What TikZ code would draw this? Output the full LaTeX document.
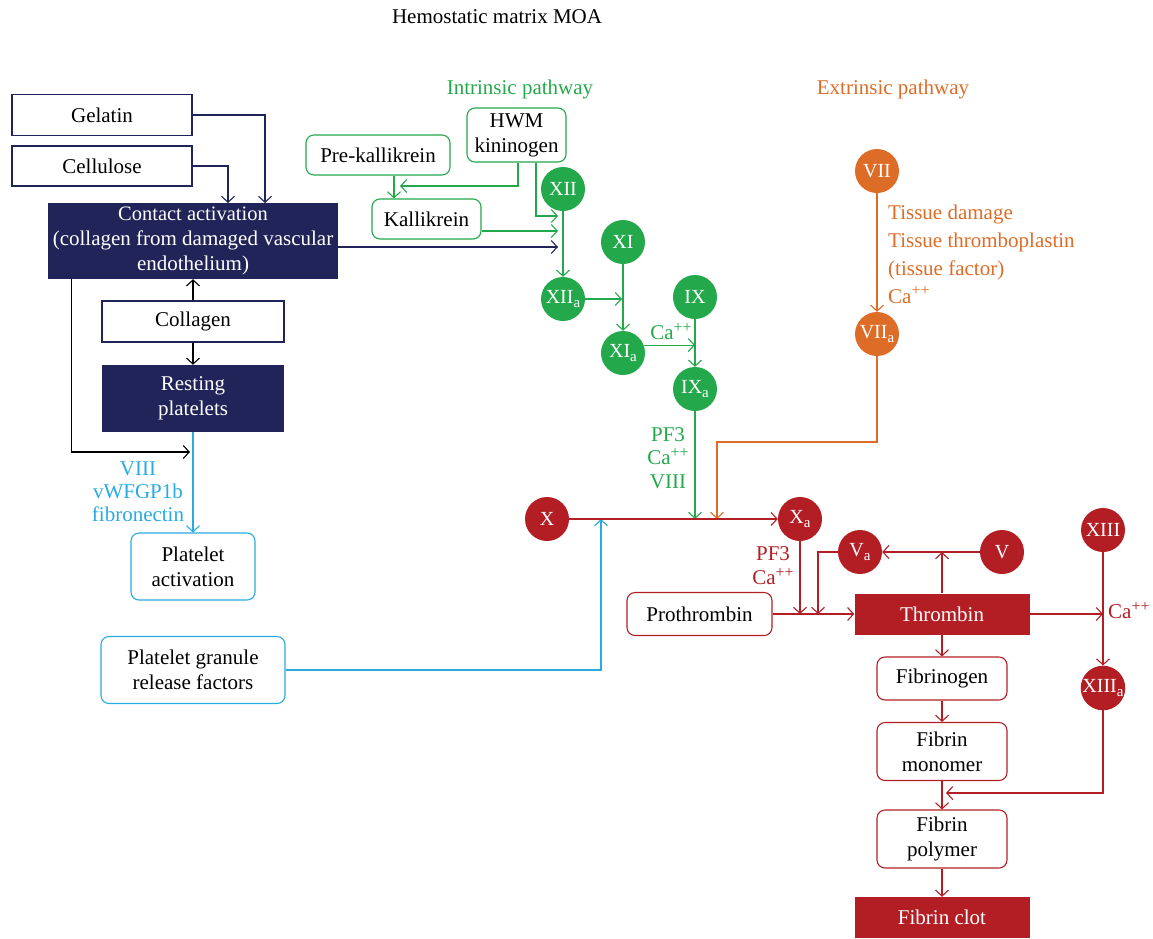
\documentclass[tikz,border=0pt]{standalone}
\usepackage{fontspec}
\setmainfont{Liberation Serif}
\usetikzlibrary{arrows.meta}
\definecolor{navy}{RGB}{32,36,88}
\definecolor{igreen}{RGB}{35,168,75}
\definecolor{eorange}{RGB}{221,108,39}
\definecolor{cred}{RGB}{178,30,36}
\definecolor{lblue}{RGB}{41,170,225}
\newcommand{\capp}{Ca\raisebox{0.36em}[0pt][0pt]{\fontsize{16}{16}\selectfont ++}}
\newcommand{\subA}{\raisebox{-0.2em}{\fontsize{15}{15}\selectfont a}}
\begin{document}
\begin{tikzpicture}[x=1pt,y=-1pt,
  every node/.style={font=\fontsize{21}{25}\selectfont, align=center, inner sep=0pt},
  arr/.style={line width=1.1pt, -{Straight Barb[length=6pt,width=13pt]}},
  plainbox/.style={draw=navy, line width=1.2pt, rectangle},
  darkbox/.style={fill=navy, text=white, rectangle},
  redbox/.style={fill=cred, text=white, rectangle},
  rbox/.style={draw=#1, rounded corners=8pt, line width=1.1pt, rectangle},
  fac/.style={circle, fill=#1, text=white, minimum size=44pt, font=\fontsize{20}{22}\selectfont},
  lbl/.style={text=#1},
]
\useasboundingbox (0,0) rectangle (1153,938);

% titles
\node (title) at (497,17) {Hemostatic matrix MOA};
\node[lbl=igreen] (intr) at (520,89) {Intrinsic pathway};
\node[lbl=eorange] (extr) at (893,89) {Extrinsic pathway};

% left column
\node[plainbox, minimum width=180pt, minimum height=41pt] (gel) at (102,115) {Gelatin};
\node[plainbox, minimum width=180pt, minimum height=40pt] (cel) at (102,166) {Cellulose};
\node[darkbox, minimum width=290pt, minimum height=76pt] (contact) at (193,241)
  {\fontsize{20.5}{25}\selectfont Contact activation\\(collagen from damaged vascular\\endothelium)};
\node[plainbox, minimum width=182pt, minimum height=41pt] (col) at (193,321.5) {Collagen};
\node[darkbox, minimum width=182pt, minimum height=67pt] (rest) at (193,398.5) {Resting\\platelets};
\node[rbox=lblue, minimum width=124pt, minimum height=67pt] (pact) at (193,566.5) {Platelet\\activation};
\node[rbox=lblue, minimum width=184pt, minimum height=67pt] (gran) at (193,670) {Platelet granule\\release factors};
\node[lbl=lblue, font=\fontsize{21}{23}\selectfont] (plbl) at (138,492) {VIII\\vWFGP1b\\fibronectin};

% intrinsic
\node[rbox=igreen, minimum width=144pt, minimum height=40pt] (prek) at (378,155) {Pre-kallikrein};
\node[rbox=igreen, minimum width=99pt, minimum height=54pt] (hwm) at (516.5,135) {HWM\\kininogen};
\node[rbox=igreen, minimum width=109pt, minimum height=40pt] (kal) at (426.5,219) {Kallikrein};
\node[fac=igreen] (xii) at (563,189) {XII};
\node[fac=igreen] (xiia) at (563,299) {XII\subA};
\node[fac=igreen] (xi) at (623,242) {XI};
\node[fac=igreen] (xia) at (623,353) {XI\subA};
\node[fac=igreen] (ix) at (695,297) {IX};
\node[fac=igreen] (ixa) at (695,389) {IX\subA};
\node[lbl=igreen] (ca1) at (671,333) {\capp};
\node[lbl=igreen, font=\fontsize{21}{23.5}\selectfont] (ixlbl) at (668,458) {PF3\\\capp\\VIII};

% extrinsic
\node[fac=eorange] (vii) at (877,171) {VII};
\node[fac=eorange] (viia) at (877,334) {VII\subA};
\node[lbl=eorange, anchor=west, align=left, font=\fontsize{21}{28}\selectfont] (viilbl) at (888,254)
  {Tissue damage\\Tissue thromboplastin\\(tissue factor)\\\capp};

% common pathway
\node[fac=cred] (x) at (547,519) {X};
\node[fac=cred] (xa) at (800,519) {X\subA};
\node[lbl=cred, font=\fontsize{21}{24}\selectfont] (xalbl) at (773,566) {PF3\\\capp};
\node[fac=cred] (va) at (860,552) {V\subA};
\node[fac=cred] (v) at (1002,552) {V};
\node[fac=cred] (xiii) at (1103,530) {XIII};
\node[fac=cred] (xiiia) at (1103,688) {XIII\subA};
\node[rbox=cred, minimum width=145pt, minimum height=43pt] (pro) at (699.5,614) {Prothrombin};
\node[redbox, minimum width=175pt, minimum height=41pt] (thr) at (942,614) {Thrombin};
\node[lbl=cred, anchor=west] (ca3) at (1108,612) {\capp};
\node[rbox=cred, minimum width=130pt, minimum height=43pt] (fgen) at (942,678.5) {Fibrinogen};
\node[rbox=cred, minimum width=130pt, minimum height=58pt] (fmono) at (942,751.5) {Fibrin\\monomer};
\node[rbox=cred, minimum width=130pt, minimum height=58pt] (fpoly) at (942,839) {Fibrin\\polymer};
\node[redbox, minimum width=175pt, minimum height=41pt] (clot) at (942,917.5) {Fibrin clot};

% coordinates for free ends
\coordinate (gin) at (265,203);
\coordinate (cin) at (228,203);
\coordinate (cx) at (558,247);
\coordinate (rp) at (190,452);
\coordinate (xin) at (601,519);
\coordinate (hk) at (400,186);
\coordinate (h12) at (558,216);
\coordinate (k12) at (558,231);
\coordinate (xil) at (622,299);
\coordinate (o1) at (717,442);
\coordinate (o2) at (717,519);
\coordinate (vt) at (818,614);
\coordinate (fm) at (946,793);

% navy / black connectors
\draw[arr,navy] (gel.east) -| (gin);
\draw[arr,navy] (cel.east) -| (cin);
\draw[arr,navy] ([yshift=-6pt]contact.east) -- (cx);
\draw[arr,black] (col.north) -- (contact.south);
\draw[arr,black] (col.south) -- (rest.north);
\draw[arr,black] ([xshift=24pt]contact.south west) |- (rp);
\draw[arr,lblue] (rest.south) -- (pact.north);
\draw[arr,lblue] (gran.east) -| (xin);

% green connectors
\draw[arr,igreen] ([xshift=16pt]prek.south) -- ([xshift=16pt]prek.south |- kal.north);
\draw[arr,igreen] ([xshift=1.5pt]hwm.south) |- (hk);
\draw[arr,igreen] ([xshift=19.5pt]hwm.south) |- (h12);
\draw[arr,igreen] ([yshift=-12pt]kal.east) -- (k12);
\draw[arr,igreen] (xii) -- (xiia);
\draw[arr,igreen] (xiia.east) -- (xil);
\draw[arr,igreen] (xi) -- (xia);
\draw[arr,igreen] (xia.21) -- (xia.21 -| ix.south);
\draw[arr,igreen] (ix) -- (ixa);
\draw[arr,igreen] (ixa.south) -- (ixa.south |- x.center);

% orange connectors
\draw[arr,eorange] (vii) -- (viia);
\draw[arr,eorange] (viia.south) |- (o1) -- (o2);

% red connectors
\draw[arr,cred] (x) -- (xa);
\draw[arr,cred] (xa.south) -- (xa.south |- thr.west);
\draw[arr,cred] (pro.east) -- (thr.west);
\draw[arr,cred] (v) -- (va);
\draw[arr,cred] (thr.north) -- (thr.north |- v.center);
\draw[arr,cred] (va.west) -| (vt);
\draw[arr,cred] (thr.east) -- (thr.east -| xiii.south);
\draw[arr,cred] (xiii) -- (xiiia);
\draw[arr,cred] (xiiia.south) |- (fm);
\draw[arr,cred] (thr.south) -- (fgen.north);
\draw[arr,cred] (fgen.south) -- (fmono.north);
\draw[arr,cred] (fmono.south) -- (fpoly.north);
\draw[arr,cred] (fpoly.south) -- (clot.north);
\end{tikzpicture}
\end{document}
